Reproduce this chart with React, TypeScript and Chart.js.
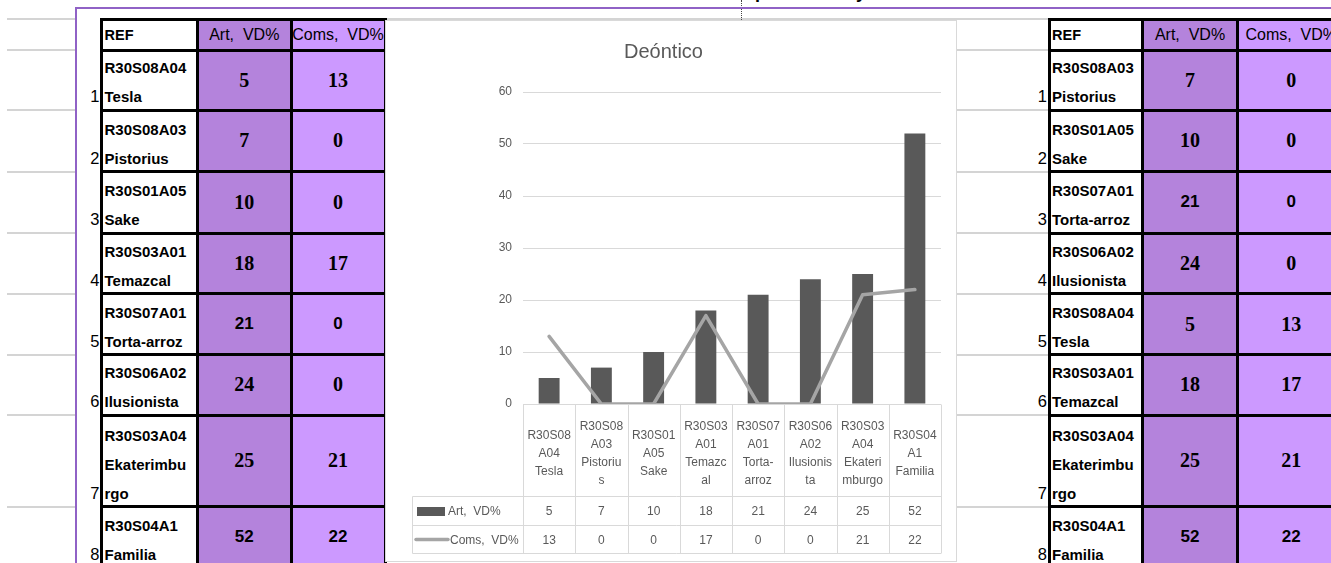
import React, { useEffect, useRef } from "react";
import Chart from "chart.js/auto";

// ---------- data ----------
const CATEGORY_LINES: string[][] = [
  ["R30S08", "A04", "Tesla"],
  ["R30S08", "A03", "Pistoriu", "s"],
  ["R30S01", "A05", "Sake"],
  ["R30S03", "A01", "Temazc", "al"],
  ["R30S07", "A01", "Torta-", "arroz"],
  ["R30S06", "A02", "Ilusionis", "ta"],
  ["R30S03", "A04", "Ekateri", "mburgo"],
  ["R30S04", "A1", "Familia"],
];
const ART_VALUES = [5, 7, 10, 18, 21, 24, 25, 52];
const COMS_VALUES = [13, 0, 0, 17, 0, 0, 21, 22];
const SERIES_NAMES = ["Art,  VD%", "Coms,  VD%"];
const CHART_TITLE = "Deóntico";
const Y_MIN = 0;
const Y_MAX = 60;
const Y_STEP = 10;

const HEADER_LABELS = ["REF", "Art,  VD%", "Coms,  VD%"];

const LEFT_REF_LINES: string[][] = [
  ["R30S08A04", "Tesla"],
  ["R30S08A03", "Pistorius"],
  ["R30S01A05", "Sake"],
  ["R30S03A01", "Temazcal"],
  ["R30S07A01", "Torta-arroz"],
  ["R30S06A02", "Ilusionista"],
  ["R30S03A04", "Ekaterimbu", "rgo"],
  ["R30S04A1", "Familia"],
];
const LEFT_ART = [5, 7, 10, 18, 21, 24, 25, 52];
const LEFT_COMS = [13, 0, 0, 17, 0, 0, 21, 22];

const RIGHT_REF_LINES: string[][] = [
  ["R30S08A03", "Pistorius"],
  ["R30S01A05", "Sake"],
  ["R30S07A01", "Torta-arroz"],
  ["R30S06A02", "Ilusionista"],
  ["R30S08A04", "Tesla"],
  ["R30S03A01", "Temazcal"],
  ["R30S03A04", "Ekaterimbu", "rgo"],
  ["R30S04A1", "Familia"],
];
const RIGHT_ART = [7, 10, 21, 24, 5, 18, 25, 52];
const RIGHT_COMS = [0, 0, 0, 0, 13, 17, 21, 22];

// ---------- styles / layout ----------
const SANS = '"Liberation Sans", Arial, "DejaVu Sans", sans-serif';
const SERIF = '"Liberation Serif", "Times New Roman", serif';
const SANS_VALUE_NAMES = new Set(["Torta-arroz", "Familia"]);
const ART_BG = "#b483dc";
const COMS_BG = "#cc99ff";
const GRID_GRAY = "#d4d4d4";
const TEXT_GRAY = "#595959";
const BAR_COLOR = "#595959";
const LINE_COLOR = "#a5a5a5";
const PURPLE = "#9062c6";

const ROW_Y = [19, 50, 110, 171.5, 233, 293.5, 354.5, 415, 506.5, 568];
const LEFT_COL_X = [101.5, 197.5, 291, 385];
const RIGHT_COL_X = [1049, 1142.5, 1237.5, 1345];

const CHART_BOX = { left: 385, top: 20, width: 570, height: 540 };

// ---------- chart data table plugin ----------
const dataTablePlugin = {
  id: "dataTable",
  afterDraw(chart: any) {
    const { ctx, chartArea: a, scales } = chart;
    const xs = scales.x;
    const n = CATEGORY_LINES.length;
    const colW = (xs.right - xs.left) / n;
    const top = Math.round(a.bottom) + 0.5;
    const hb = top + 92;
    const r1 = hb + 29;
    const r2 = r1 + 28;
    const legL = 26.5;
    ctx.save();
    ctx.strokeStyle = "#d9d9d9";
    ctx.lineWidth = 1;
    const seg = (x1: number, y1: number, x2: number, y2: number) => {
      ctx.beginPath();
      ctx.moveTo(x1, y1);
      ctx.lineTo(x2, y2);
      ctx.stroke();
    };
    seg(xs.left, top, xs.right, top);
    [hb, r1, r2].forEach((y) => seg(legL, y, xs.right, y));
    for (let i = 0; i <= n; i++) {
      const x = Math.round(xs.left + i * colW) + 0.5;
      seg(x, top, x, r2);
    }
    seg(legL, hb, legL, r2);

    ctx.fillStyle = TEXT_GRAY;
    ctx.font = `12px ${SANS}`;
    ctx.textAlign = "center";
    ctx.textBaseline = "middle";
    const mid = (top + hb) / 2 + 3;
    const artY = (hb + r1) / 2 + 1;
    const comsY = (r1 + r2) / 2 + 1;
    const ds = chart.data.datasets;
    const art = ds[1].data as number[];
    const coms = ds[0].data as number[];
    CATEGORY_LINES.forEach((lines, i) => {
      const cx = xs.getPixelForValue(i);
      lines.forEach((t, k) => ctx.fillText(t, cx, mid + (k - (lines.length - 1) / 2) * 18));
      ctx.fillText(String(art[i]), cx, artY);
      ctx.fillText(String(coms[i]), cx, comsY);
    });

    // legend keys
    ctx.fillStyle = BAR_COLOR;
    ctx.fillRect(31, artY - 5, 28, 9);
    ctx.strokeStyle = LINE_COLOR;
    ctx.lineWidth = 3.5;
    ctx.lineCap = "round";
    seg(30, comsY - 1, 62, comsY - 1);
    ctx.fillStyle = TEXT_GRAY;
    ctx.textAlign = "left";
    ctx.fillText(ds[1].label, 62, artY);
    ctx.fillText(ds[0].label, 64, comsY);
    ctx.restore();
  },
};

function DeonticoChart() {
  const ref = useRef<HTMLCanvasElement>(null);
  useEffect(() => {
    const chart = new Chart(ref.current as HTMLCanvasElement, {
      type: "bar",
      data: {
        labels: CATEGORY_LINES.map((l) => l.join(" ")),
        datasets: [
          {
            type: "line",
            label: SERIES_NAMES[1],
            data: COMS_VALUES,
            borderColor: LINE_COLOR,
            backgroundColor: LINE_COLOR,
            borderWidth: 3.5,
            pointRadius: 0,
            borderJoinStyle: "round",
            borderCapStyle: "round",
            tension: 0,
            order: 0,
          } as any,
          {
            type: "bar",
            label: SERIES_NAMES[0],
            data: ART_VALUES,
            backgroundColor: BAR_COLOR,
            barPercentage: 0.4,
            categoryPercentage: 1,
            order: 1,
          } as any,
        ],
      },
      options: {
        responsive: false,
        animation: false,
        layout: { padding: { top: 19, left: 0, right: 15, bottom: 157 } },
        plugins: {
          legend: { display: false },
          tooltip: { enabled: false },
          title: {
            display: true,
            text: CHART_TITLE,
            color: TEXT_GRAY,
            font: { family: SANS, size: 20, weight: "normal" as any },
            padding: { top: 0, bottom: 28 },
          },
        },
        scales: {
          x: { display: false, offset: true },
          y: {
            min: Y_MIN,
            max: Y_MAX,
            ticks: { stepSize: Y_STEP, color: TEXT_GRAY, font: { family: SANS, size: 12 }, padding: 11 },
            grid: { color: "#d9d9d9", drawTicks: false, lineWidth: 1 },
            border: { display: false },
            afterFit: (scale: any) => {
              scale.width = 137;
            },
          },
        },
      } as any,
      plugins: [dataTablePlugin],
    });
    return () => chart.destroy();
  }, []);
  return (
    <canvas
      ref={ref}
      width={CHART_BOX.width}
      height={CHART_BOX.height}
      style={{ display: "block", width: CHART_BOX.width, height: CHART_BOX.height }}
    />
  );
}

function SheetTable({
  colX,
  refLines,
  art,
  coms,
}: {
  colX: number[];
  refLines: string[][];
  art: number[];
  coms: number[];
}) {
  const els: any[] = [];
  const bgs = ["#ffffff", ART_BG, COMS_BG];
  for (let r = 0; r < ROW_Y.length - 1; r++) {
    const y0 = ROW_Y[r];
    const y1 = ROW_Y[r + 1];
    for (let c = 0; c < 3; c++) {
      els.push(
        <div
          key={`bg${r}-${c}`}
          style={{
            position: "absolute",
            left: colX[c],
            top: y0,
            width: colX[c + 1] - colX[c],
            height: y1 - y0,
            background: bgs[c],
          }}
        />
      );
    }
  }
  // header texts
  HEADER_LABELS.forEach((h, c) => {
    els.push(
      <div
        key={`h${c}`}
        style={{
          position: "absolute",
          left: colX[c] + (c === 0 ? 3 : 0),
          top: ROW_Y[0],
          width: colX[c + 1] - colX[c],
          height: ROW_Y[1] - ROW_Y[0],
          display: "flex",
          alignItems: "center",
          justifyContent: c === 0 ? "flex-start" : "center",
          fontFamily: SANS,
          fontWeight: c === 0 ? "bold" : "normal",
          fontSize: c === 0 ? 14.5 : 16,
          whiteSpace: "pre",
          color: "#000",
        }}
      >
        {h}
      </div>
    );
  });
  refLines.forEach((lines, i) => {
    const r = i + 1;
    const y0 = ROW_Y[r];
    const y1 = ROW_Y[r + 1];
    const name = lines.slice(1).join("");
    const sans = SANS_VALUE_NAMES.has(name);
    els.push(
      <div
        key={`ref${i}`}
        style={{
          position: "absolute",
          left: colX[0] + 3,
          top: y0,
          width: colX[1] - colX[0] - 4,
          height: y1 - y0 + 1,
          display: "flex",
          flexDirection: "column",
          justifyContent: "flex-end",
          fontFamily: SANS,
          fontWeight: "bold",
          fontSize: 15,
          color: "#000",
        }}
      >
        {lines.map((t, k) => (
          <div key={k} style={{ lineHeight: "29px", whiteSpace: "nowrap" }}>
            {t}
          </div>
        ))}
      </div>
    );
    els.push(
      <div
        key={`num${i}`}
        style={{
          position: "absolute",
          left: colX[0] - 42,
          width: 40,
          top: y1 + 1 - 29,
          height: 29,
          lineHeight: "29px",
          textAlign: "right",
          fontFamily: SANS,
          fontSize: 16.5,
          color: "#000",
        }}
      >
        {r}
      </div>
    );
    [art[i], coms[i]].forEach((v, k) => {
      els.push(
        <div
          key={`v${i}-${k}`}
          style={{
            position: "absolute",
            left: colX[k + 1],
            top: y0,
            width: colX[k + 2] - colX[k + 1],
            height: y1 - y0,
            display: "flex",
            alignItems: "center",
            justifyContent: "center",
            fontFamily: sans ? SANS : SERIF,
            fontWeight: "bold",
            fontSize: sans ? 17 : 20,
            color: "#000",
          }}
        >
          {v}
        </div>
      );
    });
  });
  // black borders
  for (let r = 0; r < ROW_Y.length - 1; r++) {
    els.push(
      <div
        key={`hl${r}`}
        style={{
          position: "absolute",
          left: colX[0] - 1.5,
          top: ROW_Y[r] - 1.5,
          width: colX[3] - colX[0] + 3,
          height: 3,
          background: "#000",
        }}
      />
    );
  }
  colX.forEach((x, c) => {
    els.push(
      <div
        key={`vl${c}`}
        style={{
          position: "absolute",
          left: x - 1.5,
          top: ROW_Y[0] - 1.5,
          width: 3,
          height: 600,
          background: "#000",
        }}
      />
    );
  });
  return <>{els}</>;
}

export default function App() {
  const grayLines: any[] = [];
  ROW_Y.slice(0, 9).forEach((y, i) => {
    grayLines.push(
      <div key={`gl${i}`} style={{ position: "absolute", left: 7, top: y - 1, width: 68, height: 2, background: GRID_GRAY }} />
    );
    grayLines.push(
      <div key={`gm${i}`} style={{ position: "absolute", left: 386, top: y - 1, width: 662, height: 2, background: GRID_GRAY }} />
    );
  });
  return (
    <div
      style={{
        position: "fixed",
        left: 0,
        top: 0,
        width: 1331,
        height: 563,
        overflow: "hidden",
        background: "#fff",
        fontFamily: SANS,
      }}
    >
      {grayLines}
      {/* page-break dotted line and clipped text above */}
      <div style={{ position: "absolute", left: 741, top: 0, width: 0, height: 20, borderLeft: "1px dotted #444" }} />
      <div
        style={{
          position: "absolute",
          left: 755,
          top: -18,
          fontFamily: SANS,
          fontWeight: "bold",
          fontSize: 18,
          lineHeight: "20px",
          color: "#000",
        }}
      >
        p
      </div>
      <div
        style={{
          position: "absolute",
          left: 856,
          top: -18,
          fontFamily: SANS,
          fontWeight: "bold",
          fontSize: 18,
          lineHeight: "20px",
          color: "#000",
        }}
      >
        y
      </div>
      {/* purple frame */}
      <div style={{ position: "absolute", left: 75, top: 7, width: 1260, height: 2, background: PURPLE }} />
      <div style={{ position: "absolute", left: 75, top: 7, width: 2, height: 560, background: PURPLE }} />

      <SheetTable colX={LEFT_COL_X} refLines={LEFT_REF_LINES} art={LEFT_ART} coms={LEFT_COMS} />
      <SheetTable colX={RIGHT_COL_X} refLines={RIGHT_REF_LINES} art={RIGHT_ART} coms={RIGHT_COMS} />

      <div
        style={{
          position: "absolute",
          left: CHART_BOX.left,
          top: CHART_BOX.top,
          width: CHART_BOX.width,
          height: CHART_BOX.height,
          border: "1px solid #d9d9d9",
          background: "#fff",
        }}
      >
        <DeonticoChart />
      </div>
    </div>
  );
}
